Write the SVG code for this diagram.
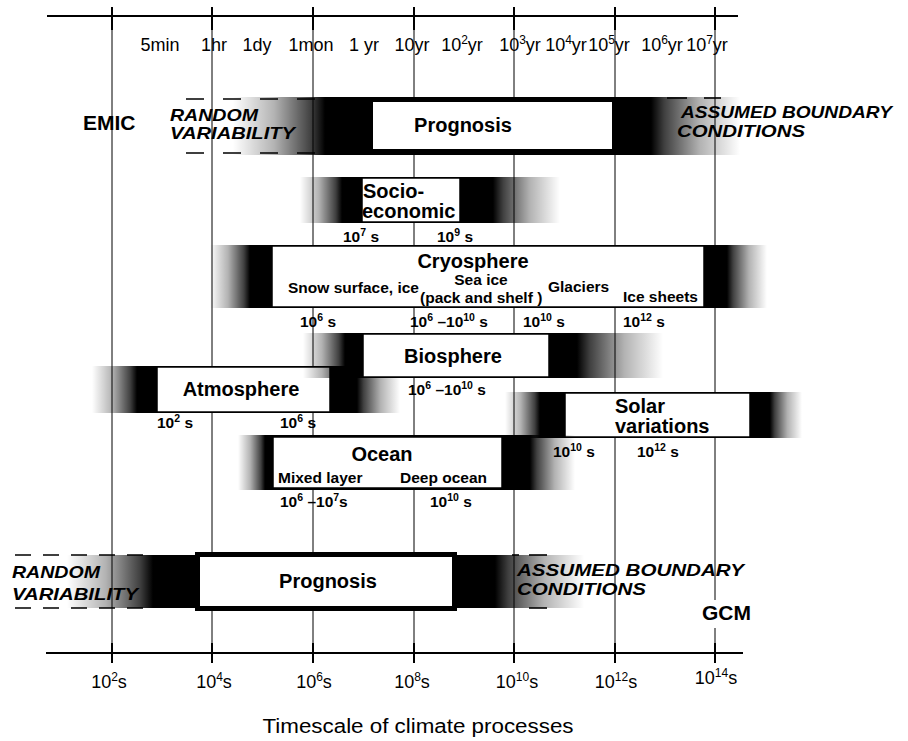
<svg xmlns="http://www.w3.org/2000/svg" width="908" height="741" viewBox="0 0 908 741">
<style>
.bg{fill:#fff}
.axis{stroke:#000;stroke-width:2;fill:none}
.tick{stroke:#000;stroke-width:2}
.grid{stroke:#000;stroke-width:1}
.gl{fill:url(#gl)}
.gr{fill:url(#gr)}
.blk{fill:#000}
.box{fill:#fff;stroke:#000;stroke-width:1.5}
.frame{fill:#fff;stroke:#000}
.dash{stroke:#000;stroke-width:1.6;fill:none}
text{font-family:"Liberation Sans",Arial,Helvetica,sans-serif;fill:#000}
.ax{font-size:18px}
.nm{font-size:20px;font-weight:bold}
.sub{font-size:15.5px;font-weight:bold}
.bi{font-size:17px;font-weight:bold;font-style:italic}
.big{font-size:21px;font-weight:bold}
.m{text-anchor:middle}
</style>
<defs>
<linearGradient id="gl" x1="0" y1="0" x2="1" y2="0">
<stop offset="0" stop-color="#000" stop-opacity="0"/>
<stop offset="0.45" stop-color="#000" stop-opacity="0.3"/>
<stop offset="0.85" stop-color="#000" stop-opacity="0.75"/>
<stop offset="1" stop-color="#000" stop-opacity="1"/>
</linearGradient>
<linearGradient id="gr" x1="1" y1="0" x2="0" y2="0">
<stop offset="0" stop-color="#000" stop-opacity="0"/>
<stop offset="0.45" stop-color="#000" stop-opacity="0.3"/>
<stop offset="0.85" stop-color="#000" stop-opacity="0.75"/>
<stop offset="1" stop-color="#000" stop-opacity="1"/>
</linearGradient>
</defs>
<rect class="bg" x="0" y="0" width="908" height="741"/>

<g id="grid-lines">
<line class="grid" x1="112" y1="7" x2="112" y2="663"/>
<line class="grid" x1="212" y1="7" x2="212" y2="663"/>
<line class="grid" x1="313" y1="7" x2="313" y2="663"/>
<line class="grid" x1="414" y1="7" x2="414" y2="663"/>
<line class="grid" x1="514" y1="7" x2="514" y2="663"/>
<line class="grid" x1="615" y1="7" x2="615" y2="663"/>
<line class="grid" x1="715" y1="7" x2="715" y2="663"/>
</g>

<g id="top-axis">
<line class="axis" x1="47" y1="16" x2="738" y2="16"/>
<line class="tick" x1="112" y1="7" x2="112" y2="30"/>
<line class="tick" x1="212" y1="7" x2="212" y2="30"/>
<line class="tick" x1="313" y1="7" x2="313" y2="30"/>
<line class="tick" x1="414" y1="7" x2="414" y2="30"/>
<line class="tick" x1="514" y1="7" x2="514" y2="30"/>
<line class="tick" x1="615" y1="7" x2="615" y2="30"/>
<line class="tick" x1="715" y1="7" x2="715" y2="30"/>
<text class="ax m" x="160" y="51">5min</text>
<text class="ax m" x="214" y="51">1hr</text>
<text class="ax m" x="257" y="51">1dy</text>
<text class="ax m" x="311" y="51">1mon</text>
<text class="ax m" x="364" y="51">1 yr</text>
<text class="ax m" x="412" y="51">10yr</text>
<text class="ax m" x="462" y="51">10<tspan font-size="12" dy="-7">2</tspan><tspan dy="7">yr</tspan></text>
<text class="ax m" x="520" y="51">10<tspan font-size="12" dy="-7">3</tspan><tspan dy="7">yr</tspan></text>
<text class="ax m" x="566" y="51">10<tspan font-size="12" dy="-7">4</tspan><tspan dy="7">yr</tspan></text>
<text class="ax m" x="609" y="51">10<tspan font-size="12" dy="-7">5</tspan><tspan dy="7">yr</tspan></text>
<text class="ax m" x="662" y="51">10<tspan font-size="12" dy="-7">6</tspan><tspan dy="7">yr</tspan></text>
<text class="ax m" x="707" y="51">10<tspan font-size="12" dy="-7">7</tspan><tspan dy="7">yr</tspan></text>
</g>

<g id="emic-label">
<text class="big" x="83" y="130">EMIC</text>
</g>

<g id="emic-prognosis">
<line class="dash" x1="186" y1="99" x2="325" y2="99" stroke-dasharray="18 19"/>
<line class="dash" x1="186" y1="153" x2="325" y2="153" stroke-dasharray="18 19"/>
<line class="dash" x1="667" y1="98" x2="687" y2="98"/>
<line class="dash" x1="704" y1="98" x2="721" y2="98"/>
<rect class="gl" x="233" y="97" width="92" height="58"/>
<rect class="blk" x="325" y="97" width="326" height="58"/>
<rect class="gr" x="651" y="97" width="89" height="58"/>
<rect class="frame" x="371" y="100" width="243" height="51" stroke-width="4"/>
<text class="nm m" x="463" y="132">Prognosis</text>
<text class="bi" x="170" y="121" font-size="16.5" textLength="88" lengthAdjust="spacingAndGlyphs">RANDOM</text>
<text class="bi" x="170" y="138.5" font-size="16.5" textLength="125" lengthAdjust="spacingAndGlyphs">VARIABILITY</text>
<text class="bi" x="681" y="118" textLength="211" lengthAdjust="spacingAndGlyphs">ASSUMED BOUNDARY</text>
<text class="bi" x="677" y="137" textLength="128" lengthAdjust="spacingAndGlyphs">CONDITIONS</text>
</g>

<g id="socioeconomic">
<rect class="gl" x="300" y="177" width="42" height="46"/>
<rect class="blk" x="342" y="177" width="151" height="46"/>
<rect class="gr" x="493" y="177" width="67" height="46"/>
<rect class="box" x="362" y="178" width="98" height="44"/>
<text class="nm" x="363" y="198">Socio-</text>
<text class="nm" x="362" y="218">economic</text>
<text class="sub" x="343" y="242">10<tspan font-size="10.5" dy="-6">7</tspan><tspan dy="6"> s</tspan></text>
<text class="sub" x="437" y="242">10<tspan font-size="10.5" dy="-6">9</tspan><tspan dy="6"> s</tspan></text>
</g>

<g id="cryosphere">
<rect class="gl" x="210" y="245" width="40" height="63"/>
<rect class="blk" x="250" y="245" width="477" height="63"/>
<rect class="gr" x="727" y="245" width="40" height="63"/>
<rect class="box" x="272" y="246" width="432" height="61"/>
<text class="nm m" x="473" y="268">Cryosphere</text>
<text class="sub" x="288" y="293">Snow surface, ice</text>
<text class="sub m" x="481" y="285">Sea ice</text>
<text class="sub" x="420" y="303">(pack and shelf )</text>
<text class="sub" x="548" y="292">Glaciers</text>
<text class="sub" x="623" y="302">Ice sheets</text>
<text class="sub" x="300" y="327">10<tspan font-size="10.5" dy="-6">6</tspan><tspan dy="6"> s</tspan></text>
<text class="sub" x="410" y="327">10<tspan font-size="10.5" dy="-6">6</tspan><tspan dy="6"> –10</tspan><tspan font-size="10.5" dy="-6">10</tspan><tspan dy="6"> s</tspan></text>
<text class="sub" x="523" y="327">10<tspan font-size="10.5" dy="-6">10</tspan><tspan dy="6"> s</tspan></text>
<text class="sub" x="623" y="327">10<tspan font-size="10.5" dy="-6">12</tspan><tspan dy="6"> s</tspan></text>
</g>

<g id="atmosphere">
<rect class="gl" x="92" y="366" width="45" height="47"/>
<rect class="blk" x="137" y="366" width="220" height="47"/>
<rect class="gr" x="357" y="366" width="43" height="47"/>
<rect class="box" x="157" y="367" width="173" height="45"/>
<text class="nm m" x="241" y="396">Atmosphere</text>
<text class="sub" x="157" y="428">10<tspan font-size="10.5" dy="-6">2</tspan><tspan dy="6"> s</tspan></text>
<text class="sub" x="280" y="428">10<tspan font-size="10.5" dy="-6">6</tspan><tspan dy="6"> s</tspan></text>
</g>

<g id="biosphere">
<rect class="gl" x="303" y="333" width="42" height="45"/>
<rect class="blk" x="345" y="333" width="232" height="45"/>
<rect class="gr" x="577" y="333" width="86" height="45"/>
<rect class="box" x="363" y="334" width="186" height="43"/>
<text class="nm m" x="453" y="363">Biosphere</text>
<text class="sub" x="408" y="395">10<tspan font-size="10.5" dy="-6">6</tspan><tspan dy="6"> –10</tspan><tspan font-size="10.5" dy="-6">10</tspan><tspan dy="6"> s</tspan></text>
</g>

<g id="solar">
<rect class="gl" x="505" y="392" width="35" height="46"/>
<rect class="blk" x="540" y="392" width="230" height="46"/>
<rect class="gr" x="770" y="392" width="32" height="46"/>
<rect class="box" x="565" y="393" width="185" height="44"/>
<text class="nm" x="615" y="413">Solar</text>
<text class="nm" x="615" y="433">variations</text>
<text class="sub" x="553" y="457">10<tspan font-size="10.5" dy="-6">10</tspan><tspan dy="6"> s</tspan></text>
<text class="sub" x="637" y="457">10<tspan font-size="10.5" dy="-6">12</tspan><tspan dy="6"> s</tspan></text>
</g>

<g id="ocean">
<rect class="gl" x="238" y="435" width="27" height="55"/>
<rect class="blk" x="265" y="435" width="265" height="55"/>
<rect class="gr" x="530" y="435" width="45" height="55"/>
<rect class="box" x="273" y="437" width="229" height="51"/>
<text class="nm m" x="382" y="461">Ocean</text>
<text class="sub" x="278" y="483">Mixed layer</text>
<text class="sub" x="400" y="483">Deep ocean</text>
<text class="sub" x="280" y="507">10<tspan font-size="10.5" dy="-6">6</tspan><tspan dy="6"> –10</tspan><tspan font-size="10.5" dy="-6">7</tspan><tspan dy="6">s</tspan></text>
<text class="sub" x="430" y="507">10<tspan font-size="10.5" dy="-6">10</tspan><tspan dy="6"> s</tspan></text>
</g>

<g id="gcm-prognosis">
<line class="dash" x1="15" y1="555" x2="153" y2="555" stroke-dasharray="16 12"/>
<line class="dash" x1="15" y1="608" x2="153" y2="608" stroke-dasharray="16 12"/>
<line class="dash" x1="512" y1="555" x2="519" y2="555"/>
<line class="dash" x1="529" y1="555" x2="547" y2="555"/>
<line class="dash" x1="529" y1="608" x2="547" y2="608"/>
<rect class="gl" x="67" y="555" width="86" height="53"/>
<rect class="blk" x="153" y="555" width="342" height="53"/>
<rect class="gr" x="495" y="555" width="89" height="53"/>
<rect class="frame" x="197.5" y="554.5" width="257" height="54" stroke-width="5"/>
<text class="nm m" x="328" y="588">Prognosis</text>
<text class="bi" x="12" y="578" font-size="18" textLength="88" lengthAdjust="spacingAndGlyphs">RANDOM</text>
<text class="bi" x="12" y="600" font-size="18" textLength="126" lengthAdjust="spacingAndGlyphs">VARIABILITY</text>
<text class="bi" x="517" y="576" font-size="18" textLength="227" lengthAdjust="spacingAndGlyphs">ASSUMED BOUNDARY</text>
<text class="bi" x="517" y="595" font-size="18" textLength="129" lengthAdjust="spacingAndGlyphs">CONDITIONS</text>
</g>

<g id="gcm-label">
<rect class="bg" x="700" y="600" width="56" height="28"/>
<text class="big" x="702" y="620">GCM</text>
</g>

<g id="bottom-axis">
<line class="axis" x1="46" y1="653" x2="743" y2="653"/>
<line class="tick" x1="112" y1="643" x2="112" y2="663"/>
<line class="tick" x1="212" y1="643" x2="212" y2="663"/>
<line class="tick" x1="313" y1="643" x2="313" y2="663"/>
<line class="tick" x1="414" y1="643" x2="414" y2="663"/>
<line class="tick" x1="514" y1="643" x2="514" y2="663"/>
<line class="tick" x1="615" y1="643" x2="615" y2="663"/>
<line class="tick" x1="715" y1="643" x2="715" y2="663"/>
<text class="ax m" x="109" y="688">10<tspan font-size="12" dy="-7">2</tspan><tspan dy="7">s</tspan></text>
<text class="ax m" x="214" y="688">10<tspan font-size="12" dy="-7">4</tspan><tspan dy="7">s</tspan></text>
<text class="ax m" x="314" y="688">10<tspan font-size="12" dy="-7">6</tspan><tspan dy="7">s</tspan></text>
<text class="ax m" x="412" y="688">10<tspan font-size="12" dy="-7">8</tspan><tspan dy="7">s</tspan></text>
<text class="ax m" x="517" y="688">10<tspan font-size="12" dy="-7">10</tspan><tspan dy="7">s</tspan></text>
<text class="ax m" x="616" y="688">10<tspan font-size="12" dy="-7">12</tspan><tspan dy="7">s</tspan></text>
<text class="ax m" x="716" y="684">10<tspan font-size="12" dy="-7">14</tspan><tspan dy="7">s</tspan></text>
<text x="418" y="733" font-size="20" text-anchor="middle" textLength="311" lengthAdjust="spacingAndGlyphs">Timescale of climate processes</text>
</g>
</svg>
